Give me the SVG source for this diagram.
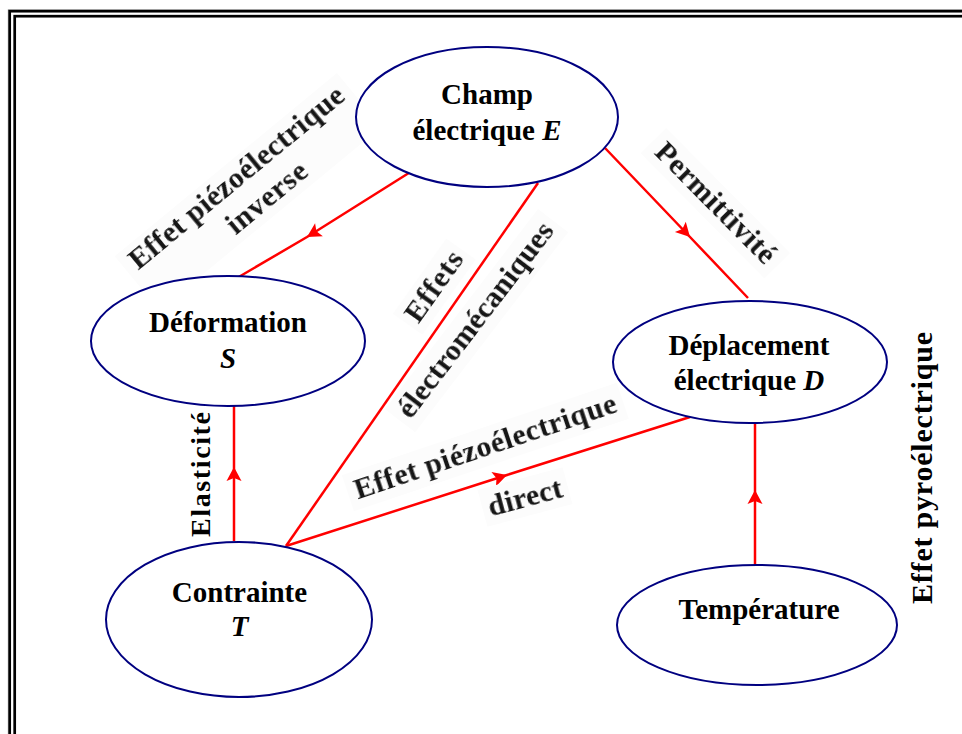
<svg xmlns="http://www.w3.org/2000/svg" width="962" height="734" viewBox="0 0 962 734">
  <defs>
    <style>
      .node { fill: #ffffff; stroke: #000080; stroke-width: 2; }
      .lbl { font-family: "Liberation Serif", "Times New Roman", serif; font-weight: bold; font-size: 29px; fill: #000000; text-anchor: middle; }
      .var { font-style: italic; }
      .link { fill: none; stroke: #ff0000; stroke-width: 2.5; }
      .tag { font-family: "Liberation Serif", "Times New Roman", serif; font-weight: bold; font-size: 30px; fill: #151515; text-anchor: middle; }
      .tagbox { fill: #fcfcfc; }
      .side { font-family: "Liberation Serif", "Times New Roman", serif; font-weight: bold; fill: #000000; text-anchor: middle; }
    </style>
    <marker id="head" viewBox="-15 -8 16 16" refX="0" refY="0" markerWidth="16" markerHeight="16" markerUnits="userSpaceOnUse" orient="auto">
      <path d="M0,0 L-14,-7.5 L-11,0 L-14,7.5 Z" fill="#ff0000"/>
    </marker>
    <filter id="soft" x="-10%" y="-30%" width="120%" height="160%">
      <feGaussianBlur stdDeviation="0.5"/>
    </filter>
  </defs>

  <rect width="962" height="734" fill="#ffffff"/>

  <!-- double frame (runs off the right and bottom edges) -->
  <g id="frame" fill="none">
    <rect x="8.3" y="9.8" width="1000" height="1000" stroke="#a0a0a0" stroke-width="1"/>
    <rect x="9.7" y="11.2" width="1000" height="1000" stroke="#000000" stroke-width="2.7"/>
    <rect x="14.7" y="16.2" width="1000" height="1000" stroke="#000000" stroke-width="2.7"/>
  </g>

  <!-- connectors -->
  <g id="connectors">
    <polyline class="link" points="412,171 307,237 237,278" marker-mid="url(#head)"/>
    <polyline class="link" points="605,148 690,237 748,298" marker-mid="url(#head)"/>
    <polyline class="link" points="234,541 234,467 234,406" marker-mid="url(#head)"/>
    <polyline class="link" points="286,546 507,475 690,417" marker-mid="url(#head)"/>
    <polyline class="link" points="755,566 755,490 755,423" marker-mid="url(#head)"/>
    <line class="link" x1="286" y1="546" x2="538" y2="183"/>
  </g>

  <!-- connector labels -->
  <g id="label-inverse" transform="translate(236,177) rotate(-39.5)">
    <rect class="tagbox" x="-144" y="-16" width="288" height="70"/>
    <g filter="url(#soft)">
      <text class="tag" x="0" y="10" textLength="270">Effet piézoélectrique</text>
      <text class="tag" x="10.5" y="44.5" textLength="96">inverse</text>
    </g>
  </g>

  <g id="label-permittivite" transform="translate(716,202.5) rotate(45.3)">
    <rect class="tagbox" x="-88" y="-17" width="176" height="36"/>
    <text class="tag" x="0" y="10" font-weight="normal" font-size="32" textLength="158" filter="url(#soft)">Permittivité</text>
  </g>

  <g id="label-effets" transform="translate(433.5,286) rotate(-54.6)">
    <rect class="tagbox" x="-46" y="-17" width="92" height="36"/>
    <text class="tag" x="0" y="10" textLength="80" filter="url(#soft)">Effets</text>
  </g>

  <g id="label-electromecaniques" transform="translate(475,319.5) rotate(-52.6)">
    <rect class="tagbox" x="-126" y="-17" width="252" height="38"/>
    <text class="tag" x="0" y="10" textLength="238" filter="url(#soft)">électromécaniques</text>
  </g>

  <g id="label-direct-1" transform="translate(485,446) rotate(-18.6)">
    <rect class="tagbox" x="-145" y="-18" width="290" height="38"/>
    <text class="tag" x="0" y="10" textLength="275" filter="url(#soft)">Effet piézoélectrique</text>
  </g>

  <g id="label-direct-2" transform="translate(525,497) rotate(-15)">
    <rect class="tagbox" x="-44" y="-19" width="88" height="38"/>
    <text class="tag" x="0" y="10" textLength="76" filter="url(#soft)">direct</text>
  </g>

  <g id="label-elasticite" transform="translate(210,474.5) rotate(-90)">
    <text class="side" x="0" y="0" font-size="28" textLength="125">Elasticité</text>
  </g>

  <g id="label-pyro" transform="translate(932,468) rotate(-90)">
    <text class="side" x="0" y="0" font-size="30" textLength="272">Effet pyroélectrique</text>
  </g>

  <!-- nodes -->
  <g id="node-champ">
    <ellipse class="node" cx="487" cy="117" rx="131" ry="70"/>
    <text class="lbl" x="487" y="104">Champ</text>
    <text class="lbl" x="487" y="140">électrique <tspan class="var">E</tspan></text>
  </g>

  <g id="node-deformation">
    <ellipse class="node" cx="228" cy="341" rx="137" ry="65"/>
    <text class="lbl" x="228" y="332">Déformation</text>
    <text class="lbl var" x="228" y="368">S</text>
  </g>

  <g id="node-deplacement">
    <ellipse class="node" cx="750" cy="362" rx="137" ry="61"/>
    <text class="lbl" x="749" y="355">Déplacement</text>
    <text class="lbl" x="749" y="390">électrique <tspan class="var">D</tspan></text>
  </g>

  <g id="node-contrainte">
    <ellipse class="node" cx="239" cy="619.5" rx="133" ry="77.5"/>
    <text class="lbl" x="239.5" y="602">Contrainte</text>
    <text class="lbl var" x="239.5" y="636">T</text>
  </g>

  <g id="node-temperature">
    <ellipse class="node" cx="757" cy="625" rx="140" ry="60"/>
    <text class="lbl" x="759" y="619">Température</text>
  </g>
</svg>
